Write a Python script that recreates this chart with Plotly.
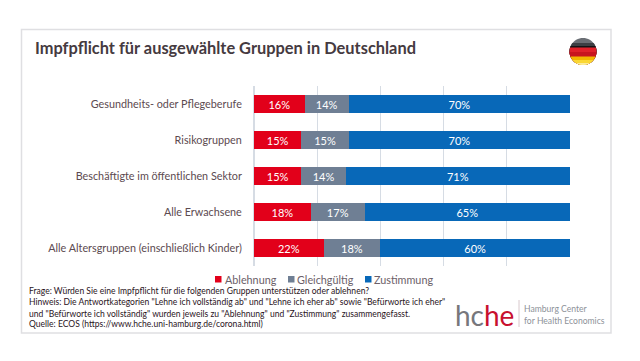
import math
import plotly.graph_objects as go

W, H = 640, 361
FONT = "Lato"

categories = ["Gesundheits- oder Pflegeberufe", "Risikogruppen",
              "Beschäftigte im öffentlichen Sektor", "Alle Erwachsene",
              "Alle Altersgruppen (einschließlich Kinder)"]
ablehnung = [16, 15, 15, 18, 22]
gleichgueltig = [14, 15, 14, 17, 18]
zustimmung = [70, 70, 71, 65, 60]
series_names = ["Ablehnung", "Gleichgültig", "Zustimmung"]
series_colors = ["#e2001a", "#6f7f94", "#0868b8"]
title_text = "Impfpflicht für ausgewählte Gruppen in Deutschland"
notes = [
    'Frage: Würden Sie eine Impfpflicht für die folgenden Gruppen unterstützen oder ablehnen?',
    'Hinweis: Die Antwortkategorien "Lehne ich vollständig ab" und "Lehne ich eher ab" sowie "Befürworte ich eher"',
    'und "Befürworte ich vollständig" wurden jeweils zu "Ablehnung" und "Zustimmung" zusammengefasst.',
    'Quelle: ECOS (https://www.hche.uni-hamburg.de/corona.html)',
]


def px(x):
    return x / W


def py(y):
    return 1 - y / H


fig = go.Figure()
for name, vals, col in zip(series_names, [ablehnung, gleichgueltig, zustimmung], series_colors):
    fig.add_trace(go.Bar(
        name=name, y=categories, x=vals, orientation="h", marker=dict(color=col, line_width=0),
        text=[f"{v}%" for v in vals], textposition="inside", insidetextanchor="middle",
        textangle=0, constraintext="none",
        textfont=dict(family=FONT, size=11, color="white"),
    ))


def rect_shape(x0, y0, x1, y1, **kw):
    return dict(type="rect", xref="paper", yref="paper", x0=px(x0), x1=px(x1), y0=py(y0), y1=py(y1), **kw)


def band(cx, cy, r, y0, color):
    """Polygon for the part of a circle below a horizontal pixel line."""
    a0 = math.asin(max(-1, min(1, (y0 - cy) / r)))
    a1 = math.pi / 2
    steps = 24
    right = [a0 + (a1 - a0) * i / steps for i in range(steps + 1)]
    pts = [(cx + r * math.cos(a), cy + r * math.sin(a)) for a in right]
    pts += [(cx - r * math.cos(a), cy + r * math.sin(a)) for a in reversed(right)]
    path = "M" + " L".join(f"{px(x):.5f},{py(y):.5f}" for x, y in pts) + " Z"
    return dict(type="path", xref="paper", yref="paper", path=path, fillcolor=color, line_width=0, layer="above")


shapes = [rect_shape(21.5, 29.5, 611, 333, line=dict(color="#dfdfe2", width=1.5), fillcolor="rgba(0,0,0,0)", layer="below")]
FX, FY, FR = 583, 51.5, 13.5
for y0, c in [
    (38, "#6a6e74"), (43, "#3c3f44"), (46, "#141416"),
    (47.5, "#e0202a"), (52, "#c8141e"),
    (56.5, "#f2b600"), (60, "#fad733"), (63, "#fbeb9a"),
]:
    shapes.append(band(FX, FY, FR, y0, c))
shapes.append(dict(type="line", xref="paper", yref="paper", x0=px(519), x1=px(519), y0=py(300), y1=py(327),
                   line=dict(color="#d8c8cc", width=1)))

annotations = [
    dict(text=f"<b>{title_text}</b>", x=px(32.5), y=py(47.5), font=dict(family=FONT, size=16.4, color="#453a40")),
]
for name, col, sx, tx in zip(series_names, series_colors, [215, 288, 365], [222.5, 295, 371.5]):
    shapes.append(rect_shape(sx, 276, sx + 6.5, 282.5, fillcolor=col, line_width=0))
    annotations.append(dict(text=name, x=px(tx), y=py(279), font=dict(family=FONT, size=10.8, color="#6b6068")))
for t, y in zip(notes, [291, 302, 313.5, 324]):
    annotations.append(dict(text=t, x=px(27), y=py(y), font=dict(family=FONT, size=8.55, color="#2a141c")))
annotations += [
    dict(text='<span style="color:#77777c">hc</span><span style="color:#c8102e">he</span>',
         x=px(453), y=py(315), font=dict(family=FONT, size=28)),
    dict(text="Hamburg Center", x=px(521.5), y=py(308.5), font=dict(family=FONT, size=8.6, color="#8d9299")),
    dict(text="for Health Economics", x=px(521.5), y=py(320.5), font=dict(family=FONT, size=8.6, color="#8d9299")),
]
for a in annotations:
    a.update(xref="paper", yref="paper", xanchor="left", yanchor="middle", showarrow=False)

fig.update_layout(
    width=W, height=H, autosize=False,
    margin=dict(l=0, r=0, t=0, b=0, pad=0),
    barmode="stack", bargap=0.5,
    paper_bgcolor="white", plot_bgcolor="white",
    showlegend=False,
    shapes=shapes, annotations=annotations,
    xaxis=dict(domain=[px(254), px(570)], range=[0, 100], dtick=20, showgrid=True, gridcolor="#d6dce4", gridwidth=1,
               showticklabels=False, ticks="", zeroline=True, zerolinecolor="#d6dce4", showline=False),
    yaxis=dict(domain=[py(266), py(86)], autorange="reversed", type="category", showgrid=False, zeroline=False, showline=False,
               ticks="outside", ticklen=9, tickcolor="rgba(0,0,0,0)",
               tickfont=dict(family=FONT, size=10.8, color="#5c4a50")),
    font=dict(family=FONT),
)
fig.write_html("out.html", config={"displayModeBar": False},
               post_script="document.body.style.margin='0';document.documentElement.style.overflow='hidden';")
